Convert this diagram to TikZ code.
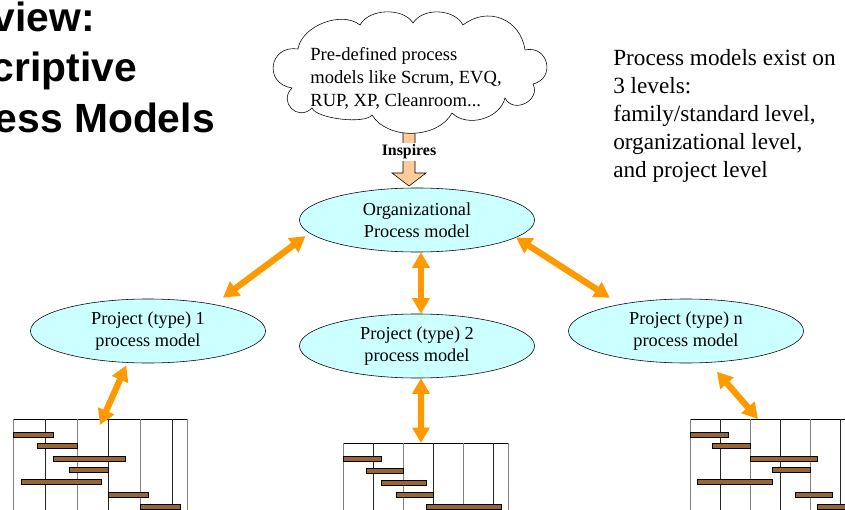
\documentclass[tikz,border=0pt]{standalone}
\usepackage{fontspec}
\setmainfont{Liberation Serif}
\newfontfamily\titlefont{Liberation Sans}
\usepackage{tikz}
\usetikzlibrary{shapes.geometric,arrows.meta}

\definecolor{linkorange}{HTML}{FF9900}
\definecolor{modelcyan}{HTML}{CCFFFF}
\definecolor{inspirepeach}{HTML}{FFCC99}
\definecolor{barbrown}{HTML}{996633}

\tikzset{
    model/.style={ellipse, draw, thin, fill=modelcyan, minimum width=5.875cm,
        minimum height=1.6cm, inner sep=0pt, align=center,
        font=\fontsize{13}{15.6}\selectfont},
    link/.style={draw=linkorange, line width=4.5pt,
        >={Triangle[width=12pt,length=11pt]}, <->},
    bar/.style={draw=black, fill=barbrown, line width=0.7pt},
    heading/.style={anchor=base east, inner sep=0pt,
        font=\titlefont\bfseries\fontsize{29}{35}\selectfont},
    puff/.style={bend left=60, looseness=#1},
    bigpuff/.style={bend left=90, looseness=#1},
}

\begin{document}
\begin{tikzpicture}[x=0.025cm, y=-0.025cm]
    \useasboundingbox (0,0) rectangle (845,510);

    % 1. Title (cut off at the left edge)
    \node[heading] (title1) at (95,32) {view:};
    \node[heading] (title2) at (137,82) {criptive};
    \node[heading] (title3) at (215,133) {ess Models};

    % 2. Inspires arrow, then the cloud over its tail
    \coordinate (insptip) at (409,186);
    \filldraw[draw=black, fill=inspirepeach, thin] (insptip) -- ++(-17,-13) -- ++(11,0)
        -- ++(0,-50) -- ++(12,0) -- ++(0,50) -- ++(11,0) -- cycle;
    \draw[thin, fill=white] (298,49) to[puff=0.9] (360,25) to[puff=0.9] (413,23)
        to[puff=0.95] (463,25) to[puff=1.2] (525,50) to[bigpuff=1.75] (533,84)
        to[bigpuff=1.5] (505,98) to[puff=1.0] (452,113) to[puff=0.95] (372,115)
        to[puff=0.5] (312,108) to[bigpuff=1.8] (292,88) to[bigpuff=1.9] cycle;
    \node[align=left, inner sep=0pt, font=\fontsize{13.2}{16.3}\selectfont] (cloud) at (406,78)
        {Pre-defined process\\models like Scrum, EVQ,\\RUP, XP, Cleanroom...};
    \node[fill=white, inner sep=1pt, font=\bfseries\fontsize{11.3}{13}\selectfont] (insplabel) at (409,152) {Inspires};

    % 3. Process models
    \node[model] (org) at (417,220) {Organizational\\Process model};
    \node[model] (p1) at (148,331) {Project (type) 1\\process model};
    \node[model] (p2) at (417,346) {Project (type) 2\\process model};
    \node[model] (pn) at (686,331) {Project (type) n\\process model};

    % 4. Side note
    \node[anchor=west, align=left, inner sep=0pt, font=\fontsize{16.5}{19.8}\selectfont] (levels) at (613,116)
        {Process models exist on\\3 levels:\\family/standard level,\\organizational level,\\and project level};

    % 5. Gantt charts
    % chart 1
    \draw (13,419) -- (187,419);
    \foreach \x in {13,77,140,187} \draw[gray] (\x,419) -- (\x,515);
    \foreach \x in {45,108,172} \draw[black!85] (\x,419) -- (\x,515);
    \foreach \a/\b/\y in {13/53/432, 37/77/443, 53/125/456, 69/108/467, 21/101/479, 108/148/492, 140/180/504}
        \filldraw[bar] (\a,\y) rectangle (\b,\y+5.5);
    \coordinate (g1) at (100,425);

    % chart 2
    \draw (343,443) -- (508,443);
    \foreach \x in {343,403,463,508} \draw[gray] (\x,443) -- (\x,515);
    \foreach \x in {373,433,493} \draw[black!85] (\x,443) -- (\x,515);
    \foreach \a/\b/\y in {343/381/456, 366/403/468, 381/426/480, 396/433/492, 426/501/504}
        \filldraw[bar] (\a,\y) rectangle (\b,\y+5.5);
    \coordinate (g2) at (421,443);

    % chart 3
    \draw (690,419) -- (850,419);
    \foreach \x in {690,750,810} \draw[gray] (\x,419) -- (\x,515);
    \foreach \x in {720,780,840} \draw[black!85] (\x,419) -- (\x,515);
    \foreach \a/\b/\y in {690/728/432, 712/750/443, 750/817/456, 772/810/467, 697/772/479, 795/832/492, 817/857/504}
        \filldraw[bar] (\a,\y) rectangle (\b,\y+5.5);
    \coordinate (g3) at (758,419);

    % 6. Links
    \draw[link, shorten <=3.5pt, shorten >=7.8pt] (org.187.5) -- (p1.22.3);
    \draw[link] ([xshift=2.8pt]org.south) -- ([xshift=2.8pt]p2.north);
    \draw[link, shorten >=8.5pt] (org.350.3) -- (pn.158.1);
    \draw[link, shorten <=2pt] (p1.237.6) -- (g1);
    \draw[link] ([xshift=2.8pt]p2.south) -- (g2);
    \draw[link, shorten <=8.5pt] (pn.306) -- (g3);
\end{tikzpicture}
\end{document}
